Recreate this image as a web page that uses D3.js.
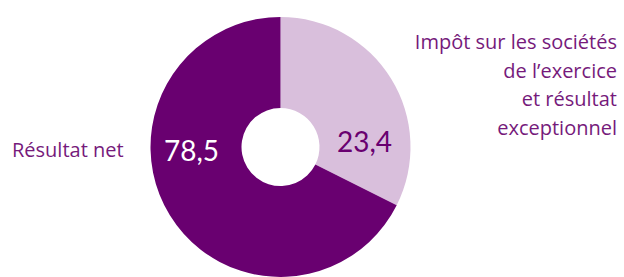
<!DOCTYPE html>
<html>
<head>
<meta charset="utf-8">
<script src="https://cdn.jsdelivr.net/npm/d3@7"></script>
<style>
  body { margin: 0; background: #fff; }
</style>
</head>
<body>
<script>
// slices, clockwise from 12 o'clock
var categories = ['Impôt sur les sociétés de l\u2019exercice et résultat exceptionnel', 'Résultat net'];
var valueLabels = ['23,4', '78,5'];
// share of the ring each slice takes in the picture (%)
var shares = [32.4, 67.6];
var colors = ['#d9bfdc', '#690070'];
var labelColors = ['#690070', '#ffffff'];

var rightLines = ['Impôt sur les sociétés', 'de l\u2019exercice', 'et résultat', 'exceptionnel'];

var svg = d3.select('body').append('svg')
  .attr('width', 624)
  .attr('height', 277);

var cx = 280.5, cy = 147;
var outerR = 130, innerR = 39;

var pie = d3.pie().sort(null).value(function(d) { return d; });
var arc = d3.arc().innerRadius(innerR).outerRadius(outerR);

var g = svg.append('g').attr('transform', 'translate(' + cx + ',' + cy + ')');

var arcs = pie(shares);

g.selectAll('path')
  .data(arcs)
  .enter().append('path')
  .attr('d', arc)
  .style('fill', function(d, i) { return colors[i]; });

// value labels inside the ring
g.selectAll('text.val')
  .data(arcs)
  .enter().append('text')
  .attr('class', 'val')
  .attr('x', function(d, i) { return i === 0 ? 84 : -89; })
  .attr('y', function(d, i) { return i === 0 ? 5 : 14; })
  .style('text-anchor', 'middle')
  .style('font-family', 'Lato')
  .style('font-size', '28px')
  .style('fill', function(d, i) { return labelColors[i]; })
  .text(function(d, i) { return valueLabels[i]; });

// category labels
var textColor = '#761a7b';

svg.append('text')
  .attr('x', 12)
  .attr('y', 157)
  .style('font-family', 'Open Sans')
  .style('font-size', '20px')
  .style('fill', textColor)
  .text(categories[1]);

svg.append('g')
  .selectAll('text')
  .data(rightLines)
  .enter().append('text')
  .attr('x', 617)
  .attr('y', function(d, i) { return 49 + i * 28.5; })
  .style('text-anchor', 'end')
  .style('font-family', 'Open Sans')
  .style('font-size', '20px')
  .style('fill', textColor)
  .text(function(d) { return d; });
</script>
</body>
</html>
